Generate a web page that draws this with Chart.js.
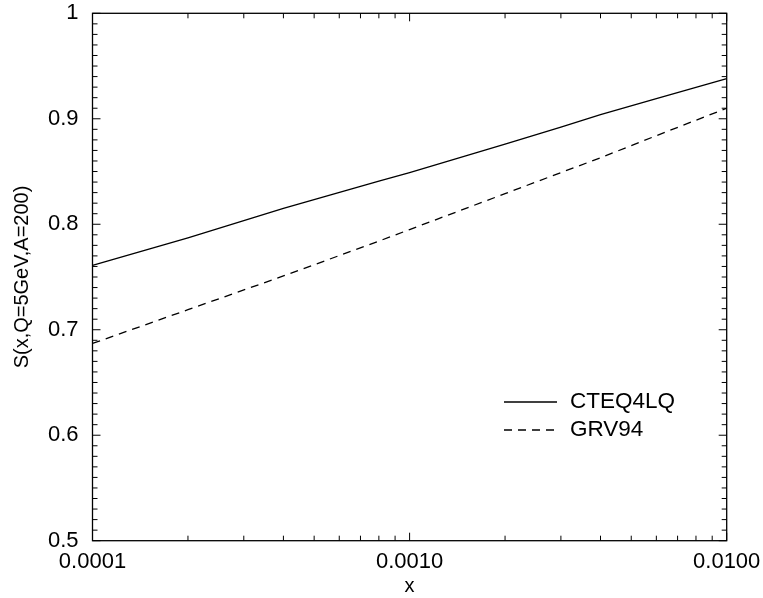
<!DOCTYPE html>
<html>
<head>
<meta charset="utf-8">
<script src="https://cdn.jsdelivr.net/npm/chart.js@4.4.1/dist/chart.umd.min.js"></script>
<style>
  html, body { margin: 0; padding: 0; background: #fff; }
  #box { width: 763px; height: 598px; }
</style>
</head>
<body>
<div id="box"><canvas id="grafico" width="763" height="598"></canvas></div>
<script>
// valores
const xValues = [0.0001, 0.0002, 0.0004, 0.0008, 0.001, 0.002, 0.003, 0.004, 0.006, 0.01];
const cteq4lq = [0.761, 0.787, 0.815, 0.841, 0.849, 0.876, 0.892, 0.904, 0.919, 0.938];
const grv94 = [0.687, 0.719, 0.751, 0.784, 0.795, 0.829, 0.849, 0.863, 0.884, 0.910];
const xTicks = [0.0001, 0.001, 0.01];
const yTicks = [0.5, 0.6, 0.7, 0.8, 0.9, 1];
const seriesNames = ['CTEQ4LQ', 'GRV94'];

const fonte = '"Liberation Sans", Arial, sans-serif';

function pontos(ys) {
    return xValues.map((x, i) => ({ x: x, y: ys[i] }));
}

// ticks para dentro nos quatro lados + legenda dentro da área
const moldura = {
    id: 'moldura',
    afterDraw(chart) {
        const ctx = chart.ctx;
        const a = chart.chartArea;
        const xs = chart.scales.x, ys = chart.scales.y;
        ctx.save();
        ctx.strokeStyle = '#000';
        ctx.lineWidth = 1.3;
        ctx.strokeRect(a.left, a.top, a.right - a.left, a.bottom - a.top);

        ctx.lineWidth = 1;
        ctx.beginPath();
        for (let i = 50; i <= 100; i++) {
            const py = ys.getPixelForValue(i / 100);
            const len = (i % 10 === 0) ? 8 : 5;
            ctx.moveTo(a.left, py); ctx.lineTo(a.left + len, py);
            ctx.moveTo(a.right, py); ctx.lineTo(a.right - len, py);
        }
        for (let e = -4; e <= -2; e++) {
            for (let k = 1; k <= 9; k++) {
                const v = k * Math.pow(10, e);
                if (v > 0.0100001) break;
                const px = xs.getPixelForValue(v);
                const len = (k === 1) ? 8 : 5;
                ctx.moveTo(px, a.bottom); ctx.lineTo(px, a.bottom - len);
                ctx.moveTo(px, a.top); ctx.lineTo(px, a.top + len);
            }
        }
        ctx.stroke();

        // legenda
        const lx = 504, ly = 402, gap = 28;
        chart.data.datasets.forEach((ds, i) => {
            const y = ly + i * gap;
            ctx.beginPath();
            ctx.lineWidth = ds.borderWidth;
            ctx.setLineDash(ds.borderDash || []);
            ctx.moveTo(lx, y); ctx.lineTo(lx + 53, y);
            ctx.stroke();
            ctx.setLineDash([]);
            ctx.fillStyle = '#000';
            ctx.font = '22.5px ' + fonte;
            ctx.textAlign = 'left';
            ctx.textBaseline = 'middle';
            ctx.fillText(ds.label, lx + 66, y);
        });
        ctx.restore();
    }
};

new Chart(document.getElementById('grafico'), {
    type: 'scatter',
    data: {
        datasets: [{
            label: seriesNames[0],
            data: pontos(cteq4lq),
            showLine: true,
            borderColor: '#000',
            borderWidth: 1.3,
            pointRadius: 0,
            fill: false
        }, {
            label: seriesNames[1],
            data: pontos(grv94),
            showLine: true,
            borderColor: '#000',
            borderWidth: 1.3,
            borderDash: [8, 6],
            pointRadius: 0,
            fill: false
        }]
    },
    options: {
        responsive: false,
        animation: false,
        layout: { padding: { top: 13.3, right: 36.3, left: 0, bottom: 0 } },
        plugins: {
            legend: { display: false },
            tooltip: { enabled: false }
        },
        scales: {
            x: {
                type: 'logarithmic',
                min: 0.0001,
                max: 0.01,
                afterBuildTicks: (s) => { s.ticks = xTicks.map(v => ({ value: v })); },
                afterFit: (s) => { s.height = 57.3; s.paddingLeft = 0; s.paddingRight = 0; },
                grid: { display: false, drawTicks: false },
                border: { display: false },
                ticks: {
                    autoSkip: false,
                    maxRotation: 0,
                    padding: 8,
                    color: '#000',
                    font: { family: fonte, size: 22 },
                    callback: (v) => Number(v).toFixed(4)
                },
                title: {
                    display: true,
                    text: 'x',
                    color: '#000',
                    padding: { top: 0, bottom: 0 },
                    font: { family: fonte, size: 20 }
                }
            },
            y: {
                min: 0.5,
                max: 1,
                afterBuildTicks: (s) => { s.ticks = yTicks.map(v => ({ value: v })); },
                afterFit: (s) => { s.width = 92.5; s.paddingTop = 0; s.paddingBottom = 0; },
                grid: { display: false, drawTicks: false },
                border: { display: false },
                ticks: {
                    autoSkip: false,
                    padding: 14,
                    color: '#000',
                    font: { family: fonte, size: 22 },
                    callback: (v) => String(+Number(v).toFixed(1))
                },
                title: {
                    display: true,
                    text: 'S(x,Q=5GeV,A=200)',
                    color: '#000',
                    padding: { top: 10, bottom: 0 },
                    font: { family: fonte, size: 20 }
                }
            }
        }
    },
    plugins: [moldura]
});
</script>
</body>
</html>
